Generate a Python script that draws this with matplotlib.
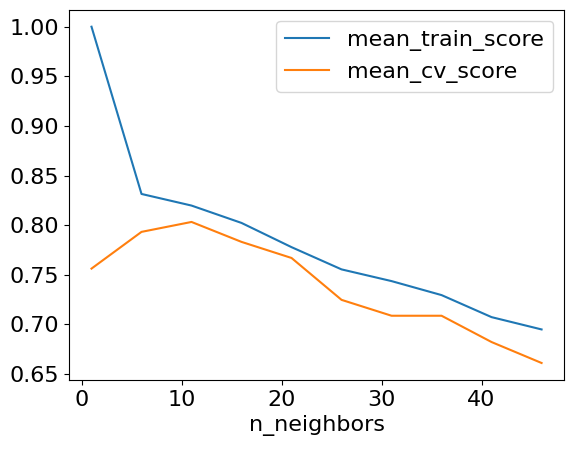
import matplotlib
matplotlib.use("Agg")
import matplotlib.pyplot as plt

n_neighbors = [1, 6, 11, 16, 21, 26, 31, 36, 41, 46]
mean_train_score = [1.000, 0.8315, 0.8198, 0.8023, 0.7779, 0.7555, 0.7437, 0.7296, 0.7074, 0.6950]
mean_cv_score = [0.7563, 0.7933, 0.8033, 0.7832, 0.7670, 0.7248, 0.7088, 0.7088, 0.6823, 0.6612]

plt.rcParams['font.size'] = 16

fig = plt.figure(figsize=(5.75, 4.5), dpi=100)
ax = fig.add_axes([0.12, 0.156, 0.861, 0.822])
ax.plot(n_neighbors, mean_train_score, label="mean_train_score")
ax.plot(n_neighbors, mean_cv_score, label="mean_cv_score")
ax.set_xlabel("n_neighbors")
ax.set_yticks([0.65, 0.70, 0.75, 0.80, 0.85, 0.90, 0.95, 1.00])
ax.legend(loc="upper right")
fig.savefig("out.png", dpi=100)
